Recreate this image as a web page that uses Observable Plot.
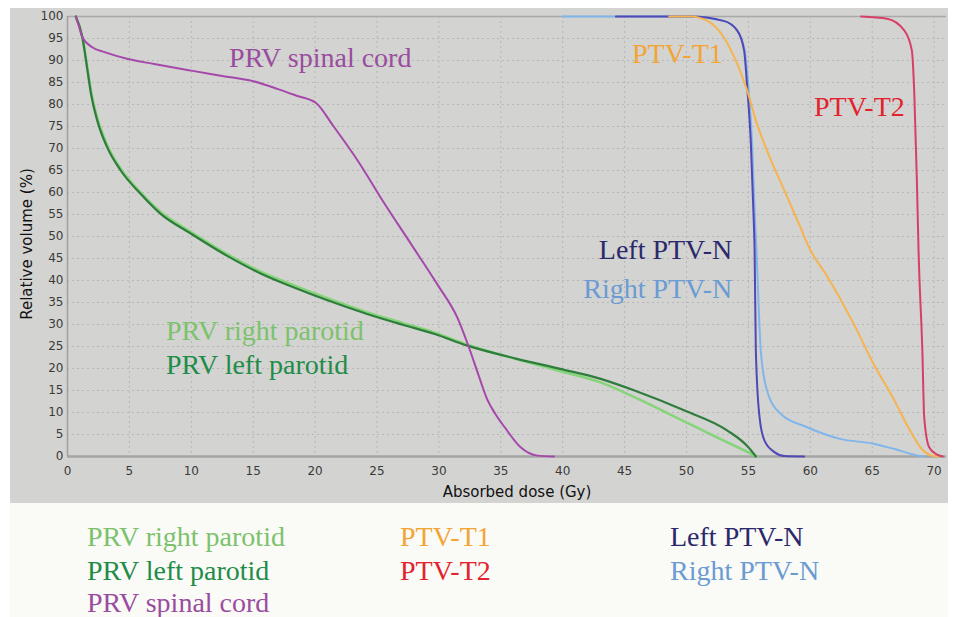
<!DOCTYPE html>
<html>
<head>
<meta charset="utf-8">
<script src="https://cdn.jsdelivr.net/npm/d3@7"></script>
<script src="https://cdn.jsdelivr.net/npm/@observablehq/plot@0.6"></script>
<style>
  html, body { margin: 0; padding: 0; background: #ffffff; }
  #wrap { position: relative; width: 955px; height: 617px; overflow: hidden; }
  #panel { position: absolute; left: 10px; top: 8px; width: 938px; height: 495px; background: #d3d3d1; }
  #legendBg { position: absolute; left: 10px; top: 503px; width: 938px; height: 114px; background: #fafaf6; }
  #chart { position: absolute; left: 10px; top: 8px; }
  #overlay { position: absolute; left: 0; top: 0; pointer-events: none; }
</style>
</head>
<body>
<div id="wrap">
  <div id="panel"></div>
  <div id="legendBg"></div>
  <div id="chart"></div>
  <svg id="overlay" width="955" height="617"></svg>
</div>
<script>
// ---- tick labels ----
const xTicks = [0, 5, 10, 15, 20, 25, 30, 35, 40, 45, 50, 55, 60, 65, 70];
const yTicks = [0, 5, 10, 15, 20, 25, 30, 35, 40, 45, 50, 55, 60, 65, 70, 75, 80, 85, 90, 95, 100];

// ---- series names & colours ----
const seriesNames = ["PRV right parotid", "PRV left parotid", "PRV spinal cord", "PTV-T1", "PTV-T2", "Left PTV-N", "Right PTV-N"];
const lineColors  = ["#86d47a", "#2f7d3d", "#a548aa", "#f5b44f", "#d83f66", "#5048b4", "#80b6ec"];
const textColors  = ["#7cc26c", "#1f8c48", "#9a4c9f", "#f2a534", "#e2232e", "#2b296b", "#6a9bd3"];

// ---- DVH values: [dose (Gy), relative volume (%)] ----
const rightParotid = [[0.67,100],[1.2,95.3],[1.6,88.5],[1.9,83],[2.4,77],[3.2,70.8],[4.3,65.4],[5.9,60],[7.5,55.6],[10,51],[12.9,46],[15.6,42],[18.3,38.9],[21,36],[24.2,32.8],[27,30.4],[29.6,28.2],[32.3,25.4],[36.3,22.1],[39.8,19.4],[43,16.9],[46.3,12.8],[49.8,8],[52.5,4.3],[55.7,0]];
const leftParotid  = [[0.67,100],[1.2,95.3],[1.6,88],[1.9,82.4],[2.4,76.4],[3.2,70.3],[4.3,65],[5.9,59.7],[7.5,55.2],[10,50.6],[12.9,45.6],[15.6,41.6],[18.3,38.4],[21,35.5],[24.2,32.4],[27,30],[29.6,27.9],[32.3,25.2],[36.3,22.2],[39.8,19.9],[43,17.7],[45.8,15],[49.8,10.5],[53.3,5.9],[55,2.1],[55.6,0]];
const spinalCord   = [[0.67,100],[0.9,98],[1.2,95.3],[2,93],[3,91.9],[4.8,90.4],[7,89.2],[10,87.7],[12.5,86.5],[15,85.3],[17,83.5],[18.5,82],[20.05,80.4],[21.5,75],[23.5,67],[25.6,57.5],[27.7,48.5],[29.9,39],[31.5,31.5],[32.4,25],[33.2,18.5],[33.9,13],[34.6,9.5],[35.3,6.7],[36.6,2.1],[37.96,0.2],[39.3,0]];
const ptvT1        = [[48.6,100],[50.3,100],[51.7,99],[53,95.3],[54.1,89.2],[54.9,83.2],[55.6,76.4],[56.5,69.5],[57.9,60.5],[59.2,52.1],[59.9,47.5],[61.4,40.8],[63.5,30.2],[65.1,21.1],[66.8,12.7],[67.9,6.7],[69,1.7],[69.8,0.2],[70.3,0]];
const ptvT2        = [[64.1,100],[66.2,99.5],[67.6,96.8],[68.2,92.3],[68.4,82.4],[68.6,63.5],[68.75,46],[69.05,24],[69.2,8.9],[69.6,2.1],[70.2,0.5],[70.7,0]];
const leftPtvN     = [[44.3,100],[50.3,100],[53,99],[54.1,96.8],[54.65,92.3],[54.9,84],[55.2,71],[55.4,56],[55.5,46.8],[55.6,24],[55.9,8.9],[56.3,3.6],[57.1,1],[57.9,0.1],[59.5,0]];
const rightPtvN    = [[40,100],[50,100],[53,99],[54.1,96.8],[54.7,92.3],[55,84],[55.3,71],[55.5,56],[55.65,46.8],[56,24],[56.5,15],[57.6,9.7],[59.7,6.7],[62.4,4],[65.1,2.9],[66.8,1.7],[68.7,0.2],[69.2,0]];

const seriesData = {
  "PRV right parotid": rightParotid,
  "PRV left parotid": leftParotid,
  "PRV spinal cord": spinalCord,
  "PTV-T1": ptvT1,
  "PTV-T2": ptvT2,
  "Left PTV-N": leftPtvN,
  "Right PTV-N": rightPtvN
};

// drawing order (bottom to top)
const drawOrder = ["Right PTV-N", "Left PTV-N", "PTV-T1", "PTV-T2", "PRV right parotid", "PRV left parotid", "PRV spinal cord"];
const lineWidths = {"PRV right parotid": 2.6, "PRV left parotid": 2.2};

// in-plot labels, anchored in data coordinates
const labelSpots = [
  {name: "PRV spinal cord",   x: 13.05, y: 88.5, anchor: "start"},
  {name: "PTV-T1",            x: 45.6,  y: 89.4, anchor: "start"},
  {name: "PTV-T2",            x: 60.3,  y: 77.5, anchor: "start"},
  {name: "Left PTV-N",        x: 53.7,  y: 45.0, anchor: "end"},
  {name: "Right PTV-N",       x: 53.7,  y: 36.1, anchor: "end"},
  {name: "PRV right parotid", x: 7.95,  y: 26.4, anchor: "start"},
  {name: "PRV left parotid",  x: 7.95,  y: 18.8, anchor: "start"}
];

const colorOf = (n, arr) => arr[seriesNames.indexOf(n)];

const lineMarks = drawOrder.map(name =>
  Plot.line(seriesData[name].map(([d, v]) => ({dose: d, vol: v})), {
    x: "dose", y: "vol",
    stroke: colorOf(name, lineColors),
    strokeWidth: lineWidths[name] || 2,
    curve: "monotone-x"
  })
);

const labelMarks = labelSpots.map(s =>
  Plot.text([s], {
    x: "x", y: "y", text: "name",
    fill: colorOf(s.name, textColors),
    fontSize: 28, fontFamily: "Liberation Serif, Times New Roman, serif",
    textAnchor: s.anchor, lineAnchor: "bottom"
  })
);

const gridStyle = {stroke: "#b7b7b7", strokeOpacity: 1, strokeWidth: 1, strokeDasharray: "2,3"};

const chart = Plot.plot({
  width: 938, height: 495,
  marginLeft: 57, marginRight: 2, marginTop: 8, marginBottom: 47,
  style: {background: "transparent", fontFamily: "DejaVu Sans, Verdana, sans-serif", overflow: "visible"},
  x: {domain: [0, 71], label: null},
  y: {domain: [0, 100], label: null},
  marks: [
    Plot.gridX(xTicks.slice(1), gridStyle),
    Plot.gridY(yTicks.slice(1, -1), gridStyle),
    Plot.ruleY([100], {stroke: "#a9a9a9", strokeWidth: 1.5}),
    Plot.ruleX([0], {stroke: "#9f9f9f", strokeWidth: 1.5}),
    Plot.ruleY([0], {stroke: "#a4a4a4", strokeWidth: 2.5}),
    ...lineMarks,
    Plot.axisX(xTicks, {tickSize: 0, tickPadding: 10, fontSize: 12, color: "#3a3a3a", label: null}),
    Plot.axisY(yTicks, {tickSize: 0, tickPadding: 4, fontSize: 12, color: "#3a3a3a", label: null}),
    ...labelMarks
  ]
});
document.getElementById("chart").appendChild(chart);

// ---- axis titles and legend (outside the plot) ----
const svg = d3.select("#overlay");
svg.append("text")
  .attr("transform", "translate(32,244) rotate(-90)")
  .attr("text-anchor", "middle")
  .attr("font-family", "DejaVu Sans, Verdana, sans-serif")
  .attr("font-size", 15)
  .attr("fill", "#111")
  .text("Relative volume (%)");
svg.append("text")
  .attr("x", 517).attr("y", 497)
  .attr("text-anchor", "middle")
  .attr("font-family", "DejaVu Sans, Verdana, sans-serif")
  .attr("font-size", 15)
  .attr("fill", "#111")
  .text("Absorbed dose (Gy)");

const legendColumns = [
  ["PRV right parotid", "PRV left parotid", "PRV spinal cord"],
  ["PTV-T1", "PTV-T2"],
  ["Left PTV-N", "Right PTV-N"]
];
const colX = [87, 400, 670];
const rowY = [546, 580, 612];
legendColumns.forEach((col, ci) => {
  col.forEach((name, ri) => {
    svg.append("text")
      .attr("x", colX[ci]).attr("y", rowY[ri])
      .attr("font-family", "Liberation Serif, Times New Roman, serif")
      .attr("font-size", 28)
      .attr("fill", colorOf(name, textColors))
      .text(name);
  });
});
</script>
</body>
</html>
